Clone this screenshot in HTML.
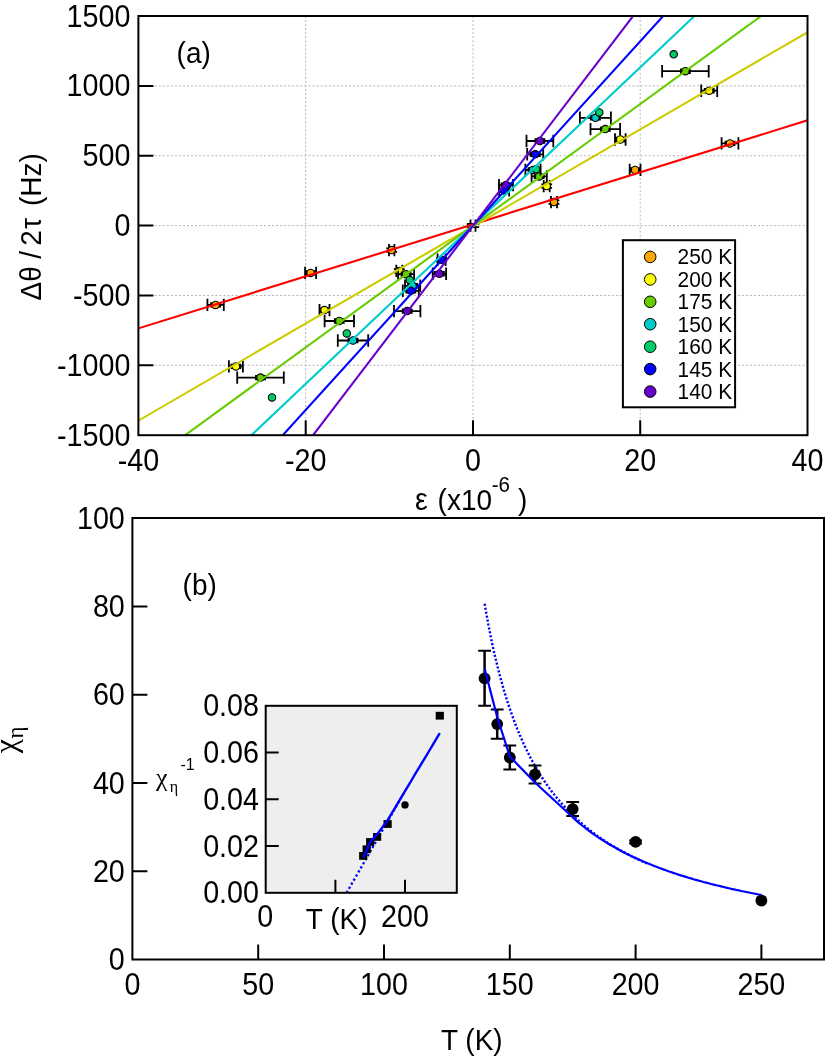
<!DOCTYPE html>
<html><head><meta charset="utf-8"><title>figure</title>
<style>html,body{margin:0;padding:0;background:#fff;}svg{display:block;font-family:"Liberation Sans",sans-serif;will-change:transform;}text{fill:#000;}</style>
</head><body>
<svg width="830" height="1059" viewBox="0 0 830 1059">
<rect x="0" y="0" width="830" height="1059" fill="#ffffff"/>
<defs><clipPath id="ca"><rect x="138.4" y="16.0" width="669.1" height="419.2"/></clipPath></defs>
<g stroke="#b4b4b4" stroke-width="1" stroke-dasharray="2,2.05" fill="none">
<line x1="305.7" y1="16.0" x2="305.7" y2="435.2"/>
<line x1="473.0" y1="16.0" x2="473.0" y2="435.2"/>
<line x1="640.2" y1="16.0" x2="640.2" y2="435.2"/>
<line x1="138.4" y1="85.9" x2="807.5" y2="85.9"/>
<line x1="138.4" y1="155.7" x2="807.5" y2="155.7"/>
<line x1="138.4" y1="225.6" x2="807.5" y2="225.6"/>
<line x1="138.4" y1="295.5" x2="807.5" y2="295.5"/>
<line x1="138.4" y1="365.3" x2="807.5" y2="365.3"/>
</g>
<g clip-path="url(#ca)">
<g stroke="#000" stroke-width="1.8" fill="none"><path d="M470.5 225.6H475.5M470.5 219.4V231.8M475.5 219.4V231.8M466.8 224H479.2M466.8 227.2H479.2"/></g>
<g stroke="#000" stroke-width="1.8" fill="none">
<path d="M207.4 304.9H223.8M207.4 298.7V311.1M223.8 298.7V311.1M215.6 303.1V306.7M210.2 303.1H221.0M210.2 306.7H221.0M305.1 272.9H316.1M305.1 266.7V279.1M316.1 266.7V279.1M310.6 271.1V274.7M305.2 271.1H316.0M305.2 274.7H316.0M389.0 250.1H394.4M389.0 243.9V256.3M394.4 243.9V256.3M391.7 248.3V251.9M386.3 248.3H397.1M386.3 251.9H397.1M551.0 202.1H557.0M551.0 195.9V208.3M557.0 195.9V208.3M554.0 200.3V203.9M548.6 200.3H559.4M548.6 203.9H559.4M629.7 169.9H640.5M629.7 163.7V176.1M640.5 163.7V176.1M635.1 168.1V171.7M629.7 168.1H640.5M629.7 171.7H640.5M721.6 143.4H738.4M721.6 137.2V149.6M738.4 137.2V149.6M730.0 141.6V145.2M724.6 141.6H735.4M724.6 145.2H735.4"/>
</g>
<g stroke="#000" stroke-width="1.1" fill="#ffa500">
<circle cx="215.6" cy="304.9" r="3.7"/>
<circle cx="310.6" cy="272.9" r="3.7"/>
<circle cx="391.7" cy="250.1" r="3.7"/>
<circle cx="554.0" cy="202.1" r="3.7"/>
<circle cx="635.1" cy="169.9" r="3.7"/>
<circle cx="730.0" cy="143.4" r="3.7"/>
</g>
<g stroke="#000" stroke-width="1.8" fill="none">
<path d="M228.9 366.4H242.9M228.9 360.2V372.6M242.9 360.2V372.6M235.9 364.6V368.2M230.5 364.6H241.3M230.5 368.2H241.3M319.5 310.1H329.5M319.5 303.9V316.3M329.5 303.9V316.3M324.5 308.3V311.9M319.1 308.3H329.9M319.1 311.9H329.9M396.3 270.9H402.3M396.3 264.7V277.1M402.3 264.7V277.1M399.3 269.1V272.7M393.9 269.1H404.7M393.9 272.7H404.7M543.7 186.1H549.7M543.7 179.9V192.3M549.7 179.9V192.3M546.7 184.3V187.9M541.3 184.3H552.1M541.3 187.9H552.1M615.0 139.5H625.6M615.0 133.3V145.7M625.6 133.3V145.7M620.3 137.7V141.3M614.9 137.7H625.7M614.9 141.3H625.7M701.2 90.7H717.2M701.2 84.5V96.9M717.2 84.5V96.9M709.2 88.9V92.5M703.8 88.9H714.6M703.8 92.5H714.6"/>
</g>
<g stroke="#000" stroke-width="1.1" fill="#ffff00">
<circle cx="235.9" cy="366.4" r="3.7"/>
<circle cx="324.5" cy="310.1" r="3.7"/>
<circle cx="399.3" cy="270.9" r="3.7"/>
<circle cx="546.7" cy="186.1" r="3.7"/>
<circle cx="620.3" cy="139.5" r="3.7"/>
<circle cx="709.2" cy="90.7" r="3.7"/>
</g>
<g stroke="#000" stroke-width="1.8" fill="none">
<path d="M237.2 377.6H283.8M237.2 371.4V383.8M283.8 371.4V383.8M260.5 375.8V379.4M255.1 375.8H265.9M255.1 379.4H265.9M324.6 321.0H354.0M324.6 314.8V327.2M354.0 314.8V327.2M339.3 319.2V322.8M333.9 319.2H344.7M333.9 322.8H344.7M398.1 274.2H414.1M398.1 268.0V280.4M414.1 268.0V280.4M406.1 272.4V276.0M400.7 272.4H411.5M400.7 276.0H411.5M531.6 176.4H546.8M531.6 170.2V182.6M546.8 170.2V182.6M539.2 174.6V178.2M533.8 174.6H544.6M533.8 178.2H544.6M590.5 129.1H620.1M590.5 122.9V135.3M620.1 122.9V135.3M605.3 127.3V130.9M599.9 127.3H610.7M599.9 130.9H610.7M662.1 71.2H708.7M662.1 65.0V77.4M708.7 65.0V77.4M685.4 69.4V73.0M680.0 69.4H690.8M680.0 73.0H690.8"/>
</g>
<g stroke="#000" stroke-width="1.1" fill="#66cc00">
<circle cx="260.5" cy="377.6" r="3.7"/>
<circle cx="339.3" cy="321.0" r="3.7"/>
<circle cx="406.1" cy="274.2" r="3.7"/>
<circle cx="539.2" cy="176.4" r="3.7"/>
<circle cx="605.3" cy="129.1" r="3.7"/>
<circle cx="685.4" cy="71.2" r="3.7"/>
</g>
<g stroke="#000" stroke-width="1.8" fill="none">
<path d="M337.8 340.5H368.2M337.8 334.3V346.7M368.2 334.3V346.7M353.0 338.7V342.3M347.6 338.7H358.4M347.6 342.3H358.4M405.0 285.8H420.2M405.0 279.6V292.0M420.2 279.6V292.0M412.6 284.0V287.6M407.2 284.0H418.0M407.2 287.6H418.0M525.4 169.9H540.6M525.4 163.7V176.1M540.6 163.7V176.1M533.0 168.1V171.7M527.6 168.1H538.4M527.6 171.7H538.4M579.9 117.8H610.9M579.9 111.6V124.0M610.9 111.6V124.0M595.4 116.0V119.6M590.0 116.0H600.8M590.0 119.6H600.8"/>
</g>
<g stroke="#000" stroke-width="1.1" fill="#00cccc">
<circle cx="353.0" cy="340.5" r="3.7"/>
<circle cx="412.6" cy="285.8" r="3.7"/>
<circle cx="533.0" cy="169.9" r="3.7"/>
<circle cx="595.4" cy="117.8" r="3.7"/>
</g>
<g stroke="#000" stroke-width="1.8" fill="none">
</g>
<g stroke="#000" stroke-width="1.1" fill="#00cc66">
<circle cx="272.0" cy="397.4" r="3.7"/>
<circle cx="346.8" cy="333.4" r="3.7"/>
<circle cx="409.8" cy="280.0" r="3.7"/>
<circle cx="536.2" cy="169.2" r="3.7"/>
<circle cx="599.3" cy="112.4" r="3.7"/>
<circle cx="673.7" cy="54.3" r="3.7"/>
</g>
<g stroke="#000" stroke-width="1.8" fill="none">
<path d="M402.8 290.8H418.8M402.8 284.6V297.0M418.8 284.6V297.0M410.8 289.0V292.6M405.4 289.0H416.2M405.4 292.6H416.2M437.6 259.8H445.6M437.6 253.6V266.0M445.6 253.6V266.0M441.6 258.0V261.6M436.2 258.0H447.0M436.2 261.6H447.0M499.1 190.4H509.1M499.1 184.2V196.6M509.1 184.2V196.6M504.1 188.6V192.2M498.7 188.6H509.5M498.7 192.2H509.5M527.2 154.3H543.2M527.2 148.1V160.5M543.2 148.1V160.5M535.2 152.5V156.1M529.8 152.5H540.6M529.8 156.1H540.6"/>
</g>
<g stroke="#000" stroke-width="1.1" fill="#0000ff">
<circle cx="410.8" cy="290.8" r="3.7"/>
<circle cx="441.6" cy="259.8" r="3.7"/>
<circle cx="504.1" cy="190.4" r="3.7"/>
<circle cx="535.2" cy="154.3" r="3.7"/>
</g>
<g stroke="#000" stroke-width="1.8" fill="none">
<path d="M394.0 311.1H420.4M394.0 304.9V317.3M420.4 304.9V317.3M407.2 309.3V312.9M401.8 309.3H412.6M401.8 312.9H412.6M432.7 273.8H446.1M432.7 267.6V280.0M446.1 267.6V280.0M439.4 272.0V275.6M434.0 272.0H444.8M434.0 275.6H444.8M499.0 185.1H513.0M499.0 178.9V191.3M513.0 178.9V191.3M506.0 183.3V186.9M500.6 183.3H511.4M500.6 186.9H511.4M526.5 141.0H553.3M526.5 134.8V147.2M553.3 134.8V147.2M539.9 139.2V142.8M534.5 139.2H545.3M534.5 142.8H545.3"/>
</g>
<g stroke="#000" stroke-width="1.1" fill="#6600cc">
<circle cx="407.2" cy="311.1" r="3.7"/>
<circle cx="439.4" cy="273.8" r="3.7"/>
<circle cx="506.0" cy="185.1" r="3.7"/>
<circle cx="539.9" cy="141.0" r="3.7"/>
</g>
<line x1="118.3" y1="334.62" x2="827.4" y2="114.18" stroke="#ff0000" stroke-width="2.1"/>
<line x1="118.3" y1="432.31" x2="827.4" y2="20.69" stroke="#cccc00" stroke-width="2.1"/>
<line x1="165.1" y1="449.75" x2="781.3" y2="1.35" stroke="#66cc00" stroke-width="2.1"/>
<line x1="231.4" y1="454.12" x2="714.5" y2="-2.92" stroke="#00cccc" stroke-width="2.1"/>
<line x1="262.8" y1="457.24" x2="683.2" y2="-6.04" stroke="#0000ff" stroke-width="2.1"/>
<line x1="293.1" y1="461.40" x2="653.1" y2="-10.20" stroke="#6600cc" stroke-width="2.1"/>
</g>
<g stroke="#000" stroke-width="2" fill="none">
<rect x="138.4" y="16.0" width="669.1" height="419.2"/>
<path d="M138.4 85.9h15M138.4 155.7h15M138.4 225.6h15M138.4 295.5h15M138.4 365.3h15M305.7 435.2v-15M473.0 435.2v-15M640.2 435.2v-15"/>
</g>
<text transform="translate(130.4,26.5) scale(1.025,1.090)" font-size="28" text-anchor="end">1500</text>
<text transform="translate(130.4,96.4) scale(1.025,1.090)" font-size="28" text-anchor="end">1000</text>
<text transform="translate(130.4,166.2) scale(1.025,1.090)" font-size="28" text-anchor="end">500</text>
<text transform="translate(130.4,236.1) scale(1.025,1.090)" font-size="28" text-anchor="end">0</text>
<text transform="translate(130.4,306.0) scale(1.025,1.090)" font-size="28" text-anchor="end">-500</text>
<text transform="translate(130.4,375.8) scale(1.025,1.090)" font-size="28" text-anchor="end">-1000</text>
<text transform="translate(130.4,445.7) scale(1.025,1.090)" font-size="28" text-anchor="end">-1500</text>
<text transform="translate(138.4,470.9) scale(1.025,1.090)" font-size="28" text-anchor="middle">-40</text>
<text transform="translate(305.7,470.9) scale(1.025,1.090)" font-size="28" text-anchor="middle">-20</text>
<text transform="translate(473.0,470.9) scale(1.025,1.090)" font-size="28" text-anchor="middle">0</text>
<text transform="translate(640.2,470.9) scale(1.025,1.090)" font-size="28" text-anchor="middle">20</text>
<text transform="translate(807.5,470.9) scale(1.025,1.090)" font-size="28" text-anchor="middle">40</text>
<text transform="translate(176.6,62.6) scale(1.000,1.055)" font-size="28">(a)</text>
<text transform="translate(40.8,300.5) rotate(-90) scale(1.000,1.055)" font-size="28">Δθ <tspan dx="-0.2">/ </tspan><tspan dx="-2.7">2</tspan><tspan dx="1.3">τ </tspan><tspan dx="4.1">(Hz)</tspan></text>
<text transform="translate(415.0,509.5) scale(1.025,1.090)" font-size="28">ε</text>
<text transform="translate(437.6,509.5) scale(1.000,1.055)" font-size="28">(x10</text>
<text transform="translate(491.8,491.7) scale(1.025,1.090)" font-size="20">-6</text>
<text transform="translate(518.0,509.5) scale(1.000,1.055)" font-size="28">)</text>
<rect x="622.9" y="240.2" width="112.2" height="167.1" fill="#fff" stroke="#000" stroke-width="2"/>
<g stroke="#000" stroke-width="1">
<circle cx="650.2" cy="256.9" r="5.8" fill="#ffa500"/>
<circle cx="650.2" cy="279.4" r="5.8" fill="#ffff00"/>
<circle cx="650.2" cy="301.8" r="5.8" fill="#66cc00"/>
<circle cx="650.2" cy="324.2" r="5.8" fill="#00cccc"/>
<circle cx="650.2" cy="346.7" r="5.8" fill="#00cc66"/>
<circle cx="650.2" cy="369.1" r="5.8" fill="#0000ff"/>
<circle cx="650.2" cy="391.6" r="5.8" fill="#6600cc"/>
</g>
<text transform="translate(677.5,264.3) scale(1.025,1.090)" font-size="20.4">250 K</text>
<text transform="translate(677.5,286.8) scale(1.025,1.090)" font-size="20.4">200 K</text>
<text transform="translate(677.5,309.2) scale(1.025,1.090)" font-size="20.4">175 K</text>
<text transform="translate(677.5,331.6) scale(1.025,1.090)" font-size="20.4">150 K</text>
<text transform="translate(677.5,354.1) scale(1.025,1.090)" font-size="20.4">160 K</text>
<text transform="translate(677.5,376.5) scale(1.025,1.090)" font-size="20.4">145 K</text>
<text transform="translate(677.5,399.0) scale(1.025,1.090)" font-size="20.4">140 K</text>
<polyline fill="none" stroke="#0000ff" stroke-width="2.4" stroke-dasharray="2.1,1.9" points="484.6,603.8 485.9,611.1 487.2,618.1 488.4,624.8 489.7,631.2 490.9,637.5 492.2,643.4 493.4,649.2 494.7,654.8 496.0,660.1 497.2,665.3 498.5,670.3 499.7,675.2 501.0,679.8 502.3,684.4 503.5,688.7 504.8,693.0 506.0,697.1 507.3,701.1 508.5,705.0 509.8,708.7 511.1,712.4 512.3,715.9 513.6,719.3 514.8,722.7 516.1,725.9 517.3,729.1 518.6,732.2 519.9,735.2 521.1,738.1 522.4,740.9 523.6,743.7 524.9,746.4 526.2,749.1 527.4,751.6 528.7,754.1 529.9,756.6 531.2,759.0 532.4,761.3 533.7,763.6 535.0,765.8 536.2,768.0 537.5,770.1 538.7,772.2 540.0,774.3 541.2,776.3 542.5,778.2 543.8,780.1 545.0,782.0 546.3,783.8 547.5,785.6 548.8,787.4 550.1,789.1 551.3,790.8 552.6,792.5 553.8,794.1 555.1,795.7 556.3,797.2 557.6,798.8 558.9,800.3 560.1,801.8 561.4,803.2 562.6,804.6 563.9,806.0 565.2,807.4 566.4,808.8 567.7,810.1 568.9,811.4 570.2,812.7 571.4,813.9 572.7,815.2 574.0,816.4 575.2,817.6 576.5,818.7 577.7,819.9 579.0,821.0 580.2,822.2 581.5,823.3 582.8,824.3 584.0,825.4 585.3,826.4 586.5,827.5 587.8,828.5 589.1,829.5 590.3,830.5 591.6,831.5 592.8,832.4 594.1,833.4 595.3,834.3 596.6,835.2 597.9,836.1 599.1,837.0 600.4,837.9 601.6,838.7 602.9,839.6 604.1,840.4 605.4,841.3 606.7,842.1 607.9,842.9 609.2,843.7 610.4,844.5 611.7,845.2 613.0,846.0 614.2,846.7 615.5,847.5 616.7,848.2 618.0,848.9 619.2,849.7 620.5,850.4 621.8,851.1 623.0,851.7 624.3,852.4 625.5,853.1 626.8,853.8 628.1,854.4 629.3,855.1 630.6,855.7 631.8,856.3 633.1,856.9 634.3,857.6 635.6,858.2 636.9,858.8 638.1,859.4 639.4,859.9 640.6,860.5 641.9,861.1 643.1,861.7 644.4,862.2 645.7,862.8 646.9,863.3 648.2,863.9"/>
<g stroke="#000" stroke-width="1.8" fill="none">
<path d="M478.2 650.8h12.8M478.2 705.8h12.8M490.8 709.4h12.8M490.8 738.8h12.8M503.4 745.4h12.8M503.4 769.6h12.8M528.6 765.4h12.8M528.6 783.4h12.8M566.3 802.1h12.8M566.3 816.1h12.8M629.2 840.4h12.8M629.2 843.4h12.8" stroke-width="2"/>
<path d="M484.6 650.8V705.8M497.2 709.4V738.8M509.8 745.4V769.6M535.0 765.4V783.4M572.7 802.1V816.1M635.6 840.4V843.4" stroke-width="2.5"/>
</g>
<g fill="#000">
<circle cx="484.6" cy="678.3" r="5.9"/>
<circle cx="497.2" cy="724.1" r="5.9"/>
<circle cx="509.8" cy="757.5" r="5.9"/>
<circle cx="535.0" cy="774.4" r="5.9"/>
<circle cx="572.7" cy="809.1" r="5.9"/>
<circle cx="635.6" cy="841.9" r="5.9"/>
<circle cx="761.4" cy="900.5" r="5.9"/>
</g>
<polyline fill="none" stroke="#0000ff" stroke-width="2.2" stroke-linejoin="round" points="484.6,668.6 497.2,717.0 509.8,756.5 535.0,782.5 572.7,817.2 575.2,819.7 577.7,821.9 580.2,824.0 582.8,826.0 585.3,828.0 587.8,829.9 590.3,831.8 592.8,833.6 595.3,835.3 597.9,837.1 600.4,838.7 602.9,840.3 605.4,841.9 607.9,843.5 610.4,845.0 613.0,846.4 615.5,847.8 618.0,849.2 620.5,850.6 623.0,851.9 625.5,853.2 628.1,854.4 630.6,855.7 633.1,856.9 635.6,858.0 638.1,859.2 640.6,860.3 643.1,861.4 645.7,862.5 648.2,863.5 650.7,864.6 653.2,865.6 655.7,866.5 658.2,867.5 660.8,868.5 663.3,869.4 665.8,870.3 668.3,871.2 670.8,872.0 673.3,872.9 675.9,873.7 678.4,874.6 680.9,875.4 683.4,876.1 685.9,876.9 688.4,877.7 691.0,878.4 693.5,879.2 696.0,879.9 698.5,880.6 701.0,881.3 703.5,882.0 706.0,882.6 708.6,883.3 711.1,884.0 713.6,884.6 716.1,885.2 718.6,885.8 721.1,886.4 723.7,887.0 726.2,887.6 728.7,888.2 731.2,888.8 733.7,889.3 736.2,889.9 738.8,890.4 741.3,891.0 743.8,891.5 746.3,892.0 748.8,892.5 751.3,893.0 753.9,893.5 756.4,894.0 758.9,894.5 761.4,894.9"/>
<g stroke="#000" stroke-width="2" fill="none">
<rect x="132.4" y="518.0" width="691.6" height="441.5"/>
<path d="M132.4 871.3h15M132.4 783.0h15M132.4 694.8h15M132.4 606.5h15M258.2 959.5v-15M384.0 959.5v-15M509.8 959.5v-15M635.6 959.5v-15M761.4 959.5v-15"/>
</g>
<text transform="translate(124.8,970.0) scale(1.025,1.090)" font-size="28" text-anchor="end">0</text>
<text transform="translate(124.8,881.8) scale(1.025,1.090)" font-size="28" text-anchor="end">20</text>
<text transform="translate(124.8,793.5) scale(1.025,1.090)" font-size="28" text-anchor="end">40</text>
<text transform="translate(124.8,705.3) scale(1.025,1.090)" font-size="28" text-anchor="end">60</text>
<text transform="translate(124.8,617.0) scale(1.025,1.090)" font-size="28" text-anchor="end">80</text>
<text transform="translate(124.8,528.8) scale(1.025,1.090)" font-size="28" text-anchor="end">100</text>
<text transform="translate(132.4,995.0) scale(1.025,1.090)" font-size="28" text-anchor="middle">0</text>
<text transform="translate(258.2,995.0) scale(1.025,1.090)" font-size="28" text-anchor="middle">50</text>
<text transform="translate(384.0,995.0) scale(1.025,1.090)" font-size="28" text-anchor="middle">100</text>
<text transform="translate(509.8,995.0) scale(1.025,1.090)" font-size="28" text-anchor="middle">150</text>
<text transform="translate(635.6,995.0) scale(1.025,1.090)" font-size="28" text-anchor="middle">200</text>
<text transform="translate(761.4,995.0) scale(1.025,1.090)" font-size="28" text-anchor="middle">250</text>
<text transform="translate(182.6,595.1) scale(1.000,1.055)" font-size="28">(b)</text>
<text transform="translate(441.0,1050.3) scale(1.000,1.055)" font-size="28">T (K)</text>
<text transform="translate(16.3,753.3) rotate(-90) scale(1.000,1.000)" font-size="32" font-family="Liberation Serif">χ</text>
<text transform="translate(22.8,738.5) rotate(-90) scale(1.000,1.000)" font-size="23" font-family="Liberation Serif">η</text>
<rect x="265.7" y="705.8" width="191.1" height="187.0" fill="#eeeeee"/>
<line x1="346.6" y1="892.8" x2="405.0" y2="791.0" stroke="#0000ff" stroke-width="2.3" stroke-dasharray="2.3,2.4"/>
<g fill="#000">
<rect x="435.7" y="711.8" width="8.2" height="7.8"/>
<circle cx="405.0" cy="804.9" r="3.7"/>
<rect x="383.5" y="820.1" width="8.2" height="7.8"/>
<rect x="373.0" y="833.0" width="8.2" height="7.8"/>
<rect x="366.1" y="838.1" width="8.2" height="7.8"/>
<rect x="362.6" y="845.4" width="8.2" height="7.8"/>
<rect x="359.1" y="852.0" width="8.2" height="7.8"/>
</g>
<polyline fill="none" stroke="#0000ff" stroke-width="2.4" stroke-linejoin="round" points="363.2,857.3 366.7,850.2 370.2,841.9 377.1,834.4 387.6,820.2 391.1,814.4 394.6,808.6 398.0,802.8 401.5,797.0 405.0,791.1 408.5,785.3 412.0,779.5 415.4,773.7 418.9,767.9 422.4,762.1 425.9,756.3 429.4,750.5 432.9,744.7 436.3,738.9 439.8,733.1"/>
<g stroke="#000" stroke-width="2" fill="none">
<rect x="265.7" y="705.8" width="191.1" height="187.0"/>
<path d="M265.7 846.0h13M265.7 799.3h13M265.7 752.5h13M335.4 892.8v-13M405.0 892.8v-13"/>
</g>
<text transform="translate(259.0,903.3) scale(1.025,1.090)" font-size="28" text-anchor="end">0.00</text>
<text transform="translate(259.0,856.5) scale(1.025,1.090)" font-size="28" text-anchor="end">0.02</text>
<text transform="translate(259.0,809.8) scale(1.025,1.090)" font-size="28" text-anchor="end">0.04</text>
<text transform="translate(259.0,763.0) scale(1.025,1.090)" font-size="28" text-anchor="end">0.06</text>
<text transform="translate(259.0,716.3) scale(1.025,1.090)" font-size="28" text-anchor="end">0.08</text>
<text transform="translate(265.2,926.6) scale(1.025,1.090)" font-size="28" text-anchor="middle">0</text>
<text transform="translate(405.0,926.6) scale(1.025,1.090)" font-size="28" text-anchor="middle">200</text>
<text transform="translate(305.8,928.7) scale(1.000,1.055)" font-size="28">T (K)</text>
<text transform="translate(155.9,785.8) scale(1.000,1.000)" font-size="26" font-family="Liberation Serif">χ</text>
<text transform="translate(169.8,792.3) scale(1.000,1.000)" font-size="16" font-family="Liberation Serif">η</text>
<text transform="translate(180.4,769.6) scale(1.025,1.090)" font-size="15.5">-1</text>
</svg>
</body></html>
